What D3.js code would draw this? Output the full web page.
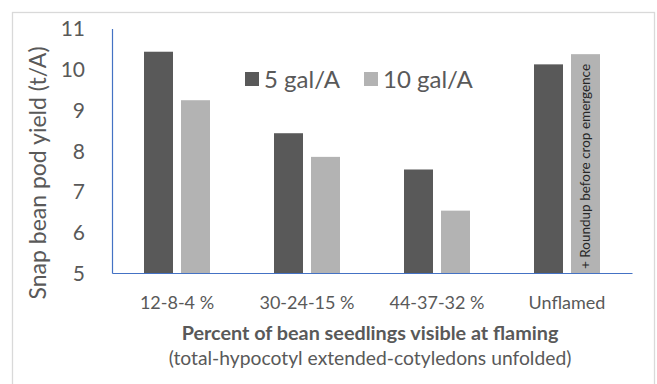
<!DOCTYPE html>
<html><head><meta charset="utf-8">
<script src="https://cdn.jsdelivr.net/npm/d3@7"></script>
<style>
html,body{margin:0;padding:0;background:#fff;}
svg{display:block;font-family:Lato, "Open Sans", sans-serif;}
</style></head>
<body>
<svg id="chart" width="657" height="384"></svg>
<script>
const categories = ["12-8-4 %", "30-24-15 %", "44-37-32 %", "Unflamed"];
const seriesNames = ["5 gal/A", "10 gal/A"];
const gal5 = [10.43, 8.43, 7.54, 10.12];
const gal10 = [9.24, 7.85, 6.53, 10.37];
const yTicks = [5, 6, 7, 8, 9, 10, 11];
const barNote = {category: "Unflamed", series: "10 gal/A", text: "+ Roundup before crop emergence"};
const yTitle = "Snap bean pod yield (t/A)";
const xTitle = "Percent of bean seedlings visible at flaming";
const xSubtitle = "(total-hypocotyl extended-cotyledons unfolded)";

const colors = {"5 gal/A": "#595959", "10 gal/A": "#b3b3b3"};
const svg = d3.select("#chart");

svg.append("rect").attr("x", 12.5).attr("y", 12.5).attr("width", 642).attr("height", 390)
  .attr("fill", "#fff").attr("stroke", "#d9d9d9").attr("stroke-width", 1.3);

const plot = {left: 112, right: 632, top: 28.5, bottom: 273};
const x0 = d3.scaleBand().domain(categories).range([plot.left, plot.right]).padding(0);
const x1 = d3.scaleBand().domain(seriesNames).range([0, 66]).paddingInner(2 - 66/37).paddingOuter(0);
const y = d3.scaleLinear().domain([5, 11]).range([plot.bottom, plot.top]);

const rows = categories.map((c, i) => ({category: c, values: [
  {series: seriesNames[0], value: gal5[i]},
  {series: seriesNames[1], value: gal10[i]}
]}));

const groups = svg.append("g").selectAll("g").data(rows).join("g")
  .attr("transform", d => `translate(${x0(d.category) + x0.bandwidth()/2 - 33},0)`);
groups.selectAll("rect").data(d => d.values.map(v => ({...v, category: d.category}))).join("rect")
  .attr("x", d => x1(d.series)).attr("width", x1.bandwidth())
  .attr("y", d => y(d.value)).attr("height", d => y(5) - y(d.value))
  .attr("fill", d => colors[d.series]);

// note inside bar
groups.filter(d => d.category === barNote.category).append("text")
  .attr("transform", `translate(${x1(barNote.series) + x1.bandwidth()/2 + 4.5},${plot.bottom - 4}) rotate(-90)`)
  .attr("font-size", 13.5).attr("fill", "#262626").text(barNote.text);

// axes
const yAxis = d3.axisLeft(y).tickValues(yTicks).tickSize(0).tickPadding(0).tickFormat(d3.format("d"));
const gy = svg.append("g").attr("transform", `translate(${plot.left},0)`).call(yAxis);
gy.select(".domain").attr("stroke", "#4472c4").attr("stroke-width", 1.2);
gy.selectAll("text").attr("x", -27).attr("font-size", 21).attr("fill", "#595959")
  .attr("font-family", "Lato, sans-serif").attr("dy", "0.35em");

const xAxis = d3.axisBottom(x0).tickSize(0).tickPadding(0);
const gx = svg.append("g").attr("transform", `translate(0,${plot.bottom})`).call(xAxis);
gx.select(".domain").attr("stroke", "#4472c4").attr("stroke-width", 1.2);
gx.selectAll("text").attr("y", 36).attr("dy", 0).attr("font-size", 18).attr("fill", "#595959")
  .attr("font-family", "Lato, sans-serif");

// titles
svg.append("text").attr("transform", "translate(45.5,173) rotate(-90)").attr("text-anchor", "middle")
  .attr("font-size", 23).attr("fill", "#595959").text(yTitle);
svg.append("text").attr("x", 370).attr("y", 340).attr("text-anchor", "middle")
  .attr("font-size", 19.8).attr("font-weight", "bold").attr("fill", "#595959").text(xTitle);
svg.append("text").attr("x", 370).attr("y", 365).attr("text-anchor", "middle")
  .attr("font-size", 19.3).attr("fill", "#595959").text(xSubtitle);

// legend
const legendX = [245, 364];
const leg = svg.append("g").selectAll("g").data(seriesNames).join("g")
  .attr("transform", (d, i) => `translate(${legendX[i]},72)`);
leg.append("rect").attr("width", 14).attr("height", 14).attr("fill", d => colors[d]);
leg.append("text").attr("x", 19).attr("y", 15.5).attr("font-size", 24).attr("fill", "#595959").text(d => d);
</script>
</body></html>
